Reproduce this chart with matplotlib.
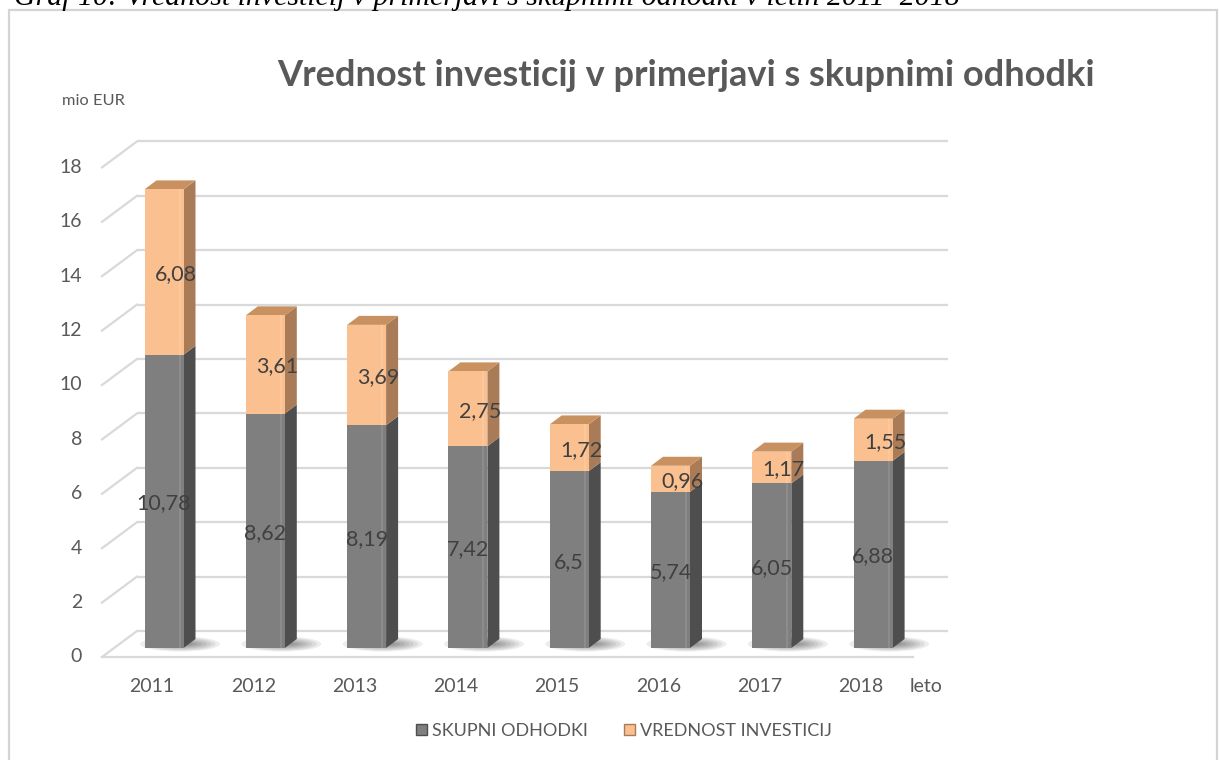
import numpy as np
import matplotlib
matplotlib.use("Agg")
import matplotlib.pyplot as plt
from matplotlib.patches import Polygon, Rectangle, Ellipse, Patch

# --- podatki ---
leta = ["2011", "2012", "2013", "2014", "2015", "2016", "2017", "2018"]
skupni_odhodki = [10.78, 8.62, 8.19, 7.42, 6.5, 5.74, 6.05, 6.88]
vrednost_investicij = [6.08, 3.61, 3.69, 2.75, 1.72, 0.96, 1.17, 1.55]
y_ticks = [0, 2, 4, 6, 8, 10, 12, 14, 16, 18]

# --- barve ---
SIVA = "#7f7f7f"
SIVA_STRAN = "#4e4e4e"
SIVA_ZGORAJ = "#6a6a6a"
ORANZNA = "#fac08f"
ORANZNA_STRAN = "#a97c57"
ORANZNA_ZGORAJ = "#c9915f"
MREZA = "#d9d9d9"
TEKST = "#595959"
OZNAKE = "#404040"
FONT = ["Lato", "DejaVu Sans"]

# --- geometrija (px -> podatkovne enote) ---
W, H = 1219, 760
X0, XS = 164.0, 101.3   # sredina prvega stolpca, px na kategorijo
Y0, YS = 648.0, 27.2    # dno stolpcev, px na enoto
def px_x(p):
    return p / XS
def px_y(p):
    return p / YS

sirina = px_x(39)
dx_glob, dy_glob = px_x(12), px_y(9)       # globina stolpca
floor_front = -px_y(9)
floor_back = px_y(17)
wall_left_front = px_x(102 - X0)
wall_left_back = px_x(137 - X0)
wall_right_front = px_x(913 - X0)
wall_right_back = px_x(948 - X0)

fig = plt.figure(figsize=(W / 100, H / 100), dpi=100)
ax = fig.add_axes([0, 0, 1, 1])
ax.set_xlim(-X0 / XS, (W - X0) / XS)
ax.set_ylim(-(H - Y0) / YS, Y0 / YS)
ax.axis("off")

# okvir grafikona
fig.patches.append(Rectangle((9 / W, -0.01), (1217 - 9) / W, 1 - 10 / H + 0.01,
                             transform=fig.transFigure, fill=False,
                             edgecolor="#d4d4d4", lw=1.6, zorder=0))

# mreža (zadnja stena + leva stena)
for t in y_ticks:
    ax.plot([wall_left_back, wall_right_back], [t + floor_back] * 2,
            color=MREZA, lw=1.6, zorder=1, solid_capstyle="butt")
    ax.plot([wall_left_front, wall_left_back], [t + floor_front, t + floor_back],
            color=MREZA, lw=1.6, zorder=1)
    ax.text(px_x(82 - X0), t + floor_front, str(t), ha="right", va="center",
            fontsize=14, color=TEKST, family=FONT)
ax.plot([wall_left_front, wall_right_front], [floor_front] * 2,
        color=MREZA, lw=1.6, zorder=1)

x = np.arange(len(leta))

# sence na tleh
for xi in x:
    for k in range(7):
        ax.add_patch(Ellipse((xi + px_x(16), px_y(4)),
                             px_x(80 - 9 * k), px_y(15 - 2 * k),
                             color="#000000", alpha=0.07, lw=0, zorder=2))

def kvader(xc, spodaj, visina, stran, zgoraj, top=True):
    l = xc - sirina / 2
    r = xc + sirina / 2
    vrh = spodaj + visina
    ax.add_patch(Polygon([(r, spodaj), (r + dx_glob, spodaj + dy_glob),
                          (r + dx_glob, vrh + dy_glob), (r, vrh)],
                         closed=True, color=stran, lw=0, zorder=3))
    if top:
        ax.add_patch(Polygon([(l, vrh), (r, vrh), (r + dx_glob, vrh + dy_glob),
                              (l + dx_glob, vrh + dy_glob)],
                             closed=True, color=zgoraj, lw=0, zorder=3))

for xi, s, v in zip(x, skupni_odhodki, vrednost_investicij):
    kvader(xi, 0, s, SIVA_STRAN, SIVA_ZGORAJ, top=False)
    kvader(xi, s, v, ORANZNA_STRAN, ORANZNA_ZGORAJ, top=True)

ax.bar(x, skupni_odhodki, width=sirina, color=SIVA, lw=0, zorder=4)
ax.bar(x, vrednost_investicij, bottom=skupni_odhodki, width=sirina,
       color=ORANZNA, lw=0, zorder=4)
# svetlejši rob na sprednji ploskvi
ax.bar(x + sirina / 2 - px_x(4), skupni_odhodki, width=px_x(2), color="#8c8c8c",
       lw=0, zorder=5)
ax.bar(x + sirina / 2 - px_x(4), vrednost_investicij, bottom=skupni_odhodki,
       width=px_x(2), color="#fcc89b", lw=0, zorder=5)

# oznake vrednosti
for xi, s, v in zip(x, skupni_odhodki, vrednost_investicij):
    ax.text(xi, s / 2 - px_y(2), f"{s:g}".replace(".", ","), ha="center",
            va="center", fontsize=15.5, color=OZNAKE, family=FONT, zorder=6)
    ax.text(xi + px_x(12), s + v / 2 - px_y(2), f"{v:.2f}".replace(".", ","),
            ha="center", va="center", fontsize=15.5, color=OZNAKE, family=FONT,
            zorder=6)

# kategorije
for xi, lbl in zip(x, leta):
    ax.text(xi - px_x(12), -px_y(38), lbl, ha="center", va="center",
            fontsize=14, color=TEKST, family=FONT)
ax.text(px_x(926 - X0), -px_y(38), "leto", ha="center", va="center",
        fontsize=14, color=TEKST, family=FONT)

# naslovi
fig.text(686 / W, 1 - 76 / H, "Vrednost investicij v primerjavi s skupnimi odhodki",
         ha="center", va="center", fontsize=26, fontweight="bold",
         color=TEKST, family=FONT)
fig.text(62 / W, 1 - 101 / H, "mio EUR", ha="left", va="center",
         fontsize=11.8, color=TEKST, family=FONT)
fig.text(960 / W, 1 - 5 / H,
         "Graf 10: Vrednost investicij v primerjavi s skupnimi odhodki v letih 2011–2018",
         ha="right", va="baseline", fontsize=21.5, style="italic",
         color="#000000", family=["Liberation Serif", "DejaVu Serif"])

# legenda
handles = [Patch(facecolor=SIVA, edgecolor=SIVA_STRAN),
           Patch(facecolor=ORANZNA, edgecolor=ORANZNA_STRAN)]
fig.legend(handles, ["SKUPNI ODHODKI", "VREDNOST INVESTICIJ"], loc="center",
           bbox_to_anchor=(624 / W, 1 - 731 / H), ncol=2, frameon=False,
           handlelength=0.6, handleheight=0.6, handletextpad=0.3,
           columnspacing=2.0, prop={"family": FONT, "size": 13},
           labelcolor=TEKST)

fig.savefig("out.png", dpi=100)
